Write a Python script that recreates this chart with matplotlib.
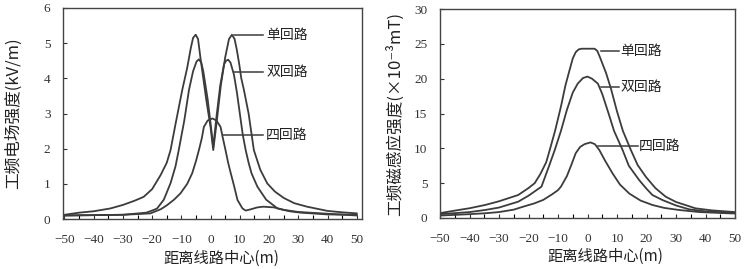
import matplotlib
matplotlib.use('Agg')
import matplotlib.pyplot as plt
from matplotlib.ticker import MultipleLocator

plt.rcParams['font.family'] = ['Noto Sans CJK SC', 'DejaVu Sans']

# electric field (kV/m)
e_single_x = [-50, -45, -40, -34.3, -30, -26, -22.9, -20, -17.1, -15, -13.7, -12, -9.7, -8, -6.8, -6,
              -5.1, -4.3, -3.5, -1.5, 0, 0.9, 2, 3.5, 5, 6.3, 7.3, 8.2, 9, 9.8, 10.5, 11.4, 13, 14.8,
              17, 19.4, 22, 25, 28.6, 33, 40, 45, 50]
e_single_y = [0.12, 0.18, 0.22, 0.30, 0.40, 0.52, 0.63, 0.85, 1.25, 1.6, 1.96, 2.7, 3.67, 4.3, 4.85, 5.15,
              5.24, 5.12, 4.6, 3.4, 2.6, 1.96, 2.7, 3.8, 4.6, 5.12, 5.24, 5.12, 4.8, 4.4, 4.0, 3.67, 3.0, 1.96,
              1.4, 1.01, 0.78, 0.6, 0.45, 0.35, 0.23, 0.19, 0.16]

e_double_x = [-50, -40, -30, -22, -19.4, -18.3, -16, -13.7, -12, -10.9, -9, -7.4, -6, -4.8, -4,
              -3.2, -2.5, -1, 0.3, 0.9, 2, 3.3, 4.6, 5.3, 6, 6.8, 8, 9, 10, 11, 12, 13, 14, 16, 19,
              22.9, 27, 30.9, 40, 50]
e_double_y = [0.10, 0.11, 0.12, 0.18, 0.26, 0.30, 0.55, 1.02, 1.5, 1.96, 2.8, 3.67, 4.2, 4.48, 4.54,
              4.45, 4.2, 3.4, 2.5, 2.05, 2.9, 3.8, 4.4, 4.5, 4.53, 4.45, 4.1, 3.6, 3.0, 2.4, 1.96, 1.6,
              1.3, 0.92, 0.55, 0.30, 0.22, 0.18, 0.13, 0.12]

e_four_x = [-50, -40, -30, -25, -20.6, -17, -14.8, -12.5, -10.3, -8, -6.3, -5, -4, -3, -2.3, -1,
            0.6, 2, 3.4, 4.2, 5.1, 6, 6.9, 8, 9.2, 10.9, 12, 13.5, 16, 18, 21.7, 25, 30, 40, 50]
e_four_y = [0.10, 0.11, 0.12, 0.14, 0.16, 0.28, 0.40, 0.55, 0.73, 1.0, 1.30, 1.65, 1.96, 2.3, 2.62,
            2.8, 2.86, 2.8, 2.62, 2.3, 1.96, 1.6, 1.30, 0.95, 0.54, 0.30, 0.24, 0.27, 0.33, 0.35,
            0.33, 0.26, 0.20, 0.15, 0.10]

# magnetic flux density (x10^-3 mT)
b_single_x = [-50, -43.7, -40, -34.7, -30, -23.5, -20, -17.9, -16, -14, -12.8, -11, -9, -7.5, -6.1,
              -5, -4, -3, -2, 2.4, 3.3, 4.2, 6.3, 8, 10, 12, 14.7, 17, 19.8, 23, 26.5, 30, 36.6, 42, 50]
b_single_y = [0.7, 1.15, 1.4, 1.87, 2.4, 3.3, 4.3, 5.0, 6.3, 8.0, 9.76, 12.5, 16.0, 19.0, 21.2,
              22.9, 23.8, 24.2, 24.3, 24.3, 24.0, 23.1, 20.8, 18.5, 15.3, 12.5, 9.76, 7.6, 5.9, 4.3,
              3.06, 2.3, 1.39, 1.1, 0.85]

b_double_x = [-50, -46, -40, -34.7, -30, -23.5, -20, -15.6, -13, -11.1, -9, -7, -5, -3.3, -1.5, 0,
              1.5, 3.5, 5, 7, 9, 11.9, 14, 17.5, 20, 22, 25.4, 30, 34.4, 40, 47.9, 50]
b_double_y = [0.55, 0.67, 0.85, 1.15, 1.5, 2.34, 3.2, 4.5, 7.5, 9.76, 12.5, 15.5, 18.0, 19.3, 20.1,
              20.3, 20.0, 19.3, 17.8, 15.2, 12.5, 9.76, 7.5, 5.45, 4.2, 3.3, 2.58, 1.8, 1.25, 0.95,
              0.76, 0.7]

b_four_x = [-50, -45, -40, -35, -30, -25, -22, -18, -15, -12, -10, -9, -7, -5.5, -4, -2.5, -1, 1,
            2.5, 4, 6, 8.5, 11, 14.2, 18, 22, 26, 31, 38, 48, 50]
b_four_y = [0.35, 0.45, 0.55, 0.67, 0.85, 1.2, 1.6, 2.1, 2.6, 3.4, 4.0, 4.5, 6.0, 7.6, 9.3, 10.2,
            10.6, 10.85, 10.6, 9.76, 8.2, 6.4, 4.8, 3.5, 2.5, 1.87, 1.45, 1.15, 0.85, 0.67, 0.65]

names = ['单回路', '双回路', '四回路']
line_col = '#3c3c3c'
serif = 'Liberation Serif'

fig = plt.figure(figsize=(7.44, 2.69), dpi=100)
ax1 = fig.add_axes([63/744, 50/269, 299/744, 211/269])
ax2 = fig.add_axes([440/744, 51/269, 295/744, 209/269])

for x, y in [(e_single_x, e_single_y), (e_double_x, e_double_y), (e_four_x, e_four_y)]:
    ax1.plot(x, y, color=line_col, lw=1.3, solid_joinstyle='round')
for x, y in [(b_single_x, b_single_y), (b_double_x, b_double_y), (b_four_x, b_four_y)]:
    ax2.plot(x, y, color=line_col, lw=1.3, solid_joinstyle='round')

# leader lines + labels
e_lab = [(8.0, 5.22), (7.9, 4.18), (4.1, 2.39)]
for (x0, y0), n in zip(e_lab, names):
    ax1.plot([x0, 18], [y0, y0], color=line_col, lw=1.1)
    ax1.text(19, y0, n, fontsize=10, va='center', ha='left', color='#222222')
b_lab = [(4.7, 24.0, 10.8), (4.7, 18.8, 10.8), (3.7, 10.3, 17.2)]
for (x0, y0, x1), n in zip(b_lab, names):
    ax2.plot([x0, x1], [y0, y0], color=line_col, lw=1.1)
    ax2.text(x1 + 0.3, y0, n, fontsize=10, va='center', ha='left', color='#222222')

ax1.set_xlim(-50.5, 51.8)
ax1.set_ylim(0, 6)
ax1.yaxis.set_major_locator(MultipleLocator(1))
ax2.set_xlim(-50, 50)
ax2.set_ylim(0, 30)
ax2.yaxis.set_major_locator(MultipleLocator(5))

for ax in (ax1, ax2):
    ax.xaxis.set_major_locator(MultipleLocator(10))
    ax.xaxis.set_minor_locator(MultipleLocator(5))
    ax.tick_params(direction='in', length=3, width=0.8, colors='#333333', labelsize=9.5)
    ax.tick_params(axis='x', pad=11)
    ax.tick_params(axis='y', pad=9)
    ax.tick_params(axis='x', which='minor', direction='in', length=3, width=0.8)
    for lab in ax.get_xticklabels() + ax.get_yticklabels():
        lab.set_fontfamily(serif)
    for s in ax.spines.values():
        s.set_color('#444444')
        s.set_linewidth(1.0)
    ax.set_xlabel('距离线路中心(m)', fontsize=11, color='#222222')

ax1.set_ylabel('工频电场强度(kV/m)', fontsize=12, color='#222222')
ax2.set_ylabel('工频磁感应强度(×10⁻³mT)', fontsize=12, color='#222222')
ax1.yaxis.set_label_coords(-0.137, 0.5)
ax2.yaxis.set_label_coords(-0.122, 0.5)
ax1.xaxis.set_label_coords(0.53, -0.145)
ax2.xaxis.set_label_coords(0.56, -0.145)

fig.savefig('out.png', dpi=100, facecolor='white')
